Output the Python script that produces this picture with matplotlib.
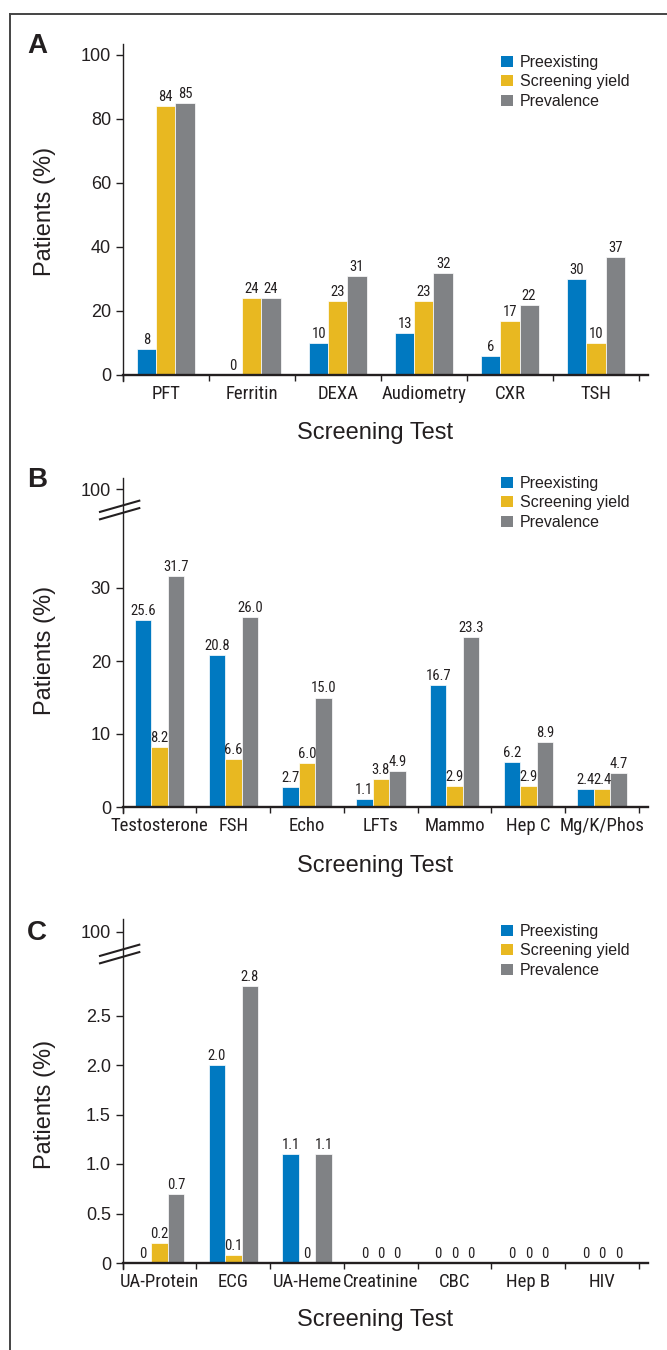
import numpy as np
import matplotlib
matplotlib.use("Agg")
import matplotlib.pyplot as plt
from matplotlib import font_manager
from matplotlib.font_manager import FontProperties
from matplotlib.patches import Patch
from matplotlib.lines import Line2D
from matplotlib.transforms import IdentityTransform

# ---- data ----
series_names = ["Preexisting", "Screening yield", "Prevalence"]
colors = ["#0079c1", "#e8b821", "#808285"]

tests_a = ["PFT", "Ferritin", "DEXA", "Audiometry", "CXR", "TSH"]
pre_a = [8, 0, 10, 13, 6, 30]
yield_a = [84, 24, 23, 23, 17, 10]
prev_a = [85, 24, 31, 32, 22, 37]

tests_b = ["Testosterone", "FSH", "Echo", "LFTs", "Mammo", "Hep C", "Mg/K/Phos"]
pre_b = [25.6, 20.8, 2.7, 1.1, 16.7, 6.2, 2.4]
yield_b = [8.2, 6.6, 6.0, 3.8, 2.9, 2.9, 2.4]
prev_b = [31.7, 26.0, 15.0, 4.9, 23.3, 8.9, 4.7]

tests_c = ["UA-Protein", "ECG", "UA-Heme", "Creatinine", "CBC", "Hep B", "HIV"]
pre_c = [0, 2.0, 1.1, 0, 0, 0, 0]
yield_c = [0.2, 0.08, 0, 0, 0, 0, 0]
prev_c = [0.7, 2.8, 1.1, 0, 0, 0, 0]

# ---- style ----
W, H = 667, 1350
INK = "#231f20"
plain = ["Liberation Sans", "DejaVu Sans"]
plt.rcParams["font.family"] = plain
plt.rcParams["text.color"] = INK


# look for a condensed sans font (the tick/bar labels are condensed in the original)
def find_condensed():
    prefs = ["Liberation Sans Narrow", "Roboto Condensed", "Open Sans Condensed",
             "Noto Sans Condensed", "DejaVu Sans Condensed", "Noto Sans", "Open Sans",
             "DejaVu Sans"]
    hits = []
    for f in font_manager.fontManager.ttflist:
        cond = (f.stretch in ("condensed", "semi-condensed", "extra-condensed")
                or "Narrow" in f.name or "Condensed" in f.name
                or "Condensed" in f.fname or "Narrow" in f.fname)
        if not cond or f.style != "normal":
            continue
        if f.weight not in (400, "normal", "regular", "book"):
            continue
        if "Mono" in f.name or "Serif" in f.name or "Mono" in f.fname:
            continue
        rank = len(prefs)
        for i, p in enumerate(prefs):
            if f.name.startswith(p):
                rank = i
                break
        hits.append((rank, f.fname))
    if hits:
        hits.sort()
        return FontProperties(fname=hits[0][1]), True
    return FontProperties(family=plain), False


cond_fp, have_cond = find_condensed()
TICK_X_SIZE = 13.5 if have_cond else 11.5
BAR_SIZE = 10.5 if have_cond else 9.5

fig = plt.figure(figsize=(W / 100, H / 100), dpi=100)

AX_L, AX_R, CAT_R = 122.7, 648.0, 639.0


def px_rect(top, bottom):
    return [AX_L / W, 1 - bottom / H, (AX_R - AX_L) / W, (bottom - top) / H]


def fmt_int(v):
    return f"{v:.0f}"


def fmt_dec(v):
    return f"{v:.1f}"


def fmt_dec0(v):
    return "0" if v == 0 else f"{v:.1f}"


def cfp(size):
    fp = cond_fp.copy()
    fp.set_size(size)
    return fp


def draw_panel(top, zero_px, px_per_unit, tests, series, fmt, yticks, yticklabels,
               letter, letter_y, legend_top, ylabel_y, xlabel_y, brk=None):
    bottom = zero_px + 6
    ax = fig.add_axes(px_rect(top, bottom))
    n = len(tests)
    x = np.arange(n)
    w = 0.223
    for k, (vals, col) in enumerate(zip(series, colors)):
        xs = x + (k - 1) * w
        ax.bar(xs, vals, width=w, color=col, edgecolor="white", linewidth=0.5, zorder=2)
        for xi, v in zip(xs, vals):
            ax.annotate(fmt(v), (xi, v), xytext=(0, 1.5), textcoords="offset points",
                        ha="center", va="bottom", fontproperties=cfp(BAR_SIZE), color=INK)

    span = n * (AX_R - AX_L) / (CAT_R - AX_L)
    ax.set_xlim(-0.5, -0.5 + span)
    ax.set_ylim(-(bottom - zero_px) / px_per_unit, (zero_px - top) / px_per_unit)

    for s in ["top", "right"]:
        ax.spines[s].set_visible(False)
    ax.spines["bottom"].set_position(("data", 0))
    ax.spines["bottom"].set_linewidth(1.7)
    ax.spines["left"].set_linewidth(1.0)
    ax.spines["bottom"].set_color(INK)
    ax.spines["left"].set_color(INK)

    ax.set_xticks(np.arange(n + 1) - 0.5)
    ax.set_xticklabels([])
    ax.tick_params(axis="x", which="major", length=4.5, width=1.0, color=INK)
    ax.set_xticks(x, minor=True)
    ax.set_xticklabels(tests, minor=True, fontproperties=cfp(TICK_X_SIZE), color=INK)
    ax.tick_params(axis="x", which="minor", length=0, pad=7)

    ax.set_yticks(yticks)
    ax.set_yticklabels(yticklabels, fontsize=13, color=INK)
    ax.tick_params(axis="y", length=5, width=1.0, pad=3.5, color=INK)

    if brk is not None:
        # broken-axis marks on the y spine
        fig.canvas.draw()
        cx, cy = ax.transData.transform((-0.5, brk))
        for dy in (3.7, -3.7):
            seg = Line2D([cx - 22.7, cx + 16.6], [cy + dy - 5.6, cy + dy + 5.6],
                         transform=IdentityTransform(), color=INK, lw=1.5)
            fig.add_artist(seg)

    fig.text(37 / W, 1 - letter_y / H, letter, fontsize=20, fontweight="bold",
             ha="center", va="center")
    fig.text(45 / W, 1 - ylabel_y / H, "Patients (%)", fontsize=17, rotation=90,
             ha="center", va="center")
    fig.text(375 / W, 1 - xlabel_y / H, "Screening Test", fontsize=17,
             ha="center", va="center")

    handles = [Patch(facecolor=c, edgecolor="none") for c in colors]
    fig.legend(handles, series_names, loc="upper left",
               bbox_to_anchor=(501 / W, 1 - legend_top / H), frameon=False,
               fontsize=11.5, handlelength=0.75, handleheight=0.7,
               handletextpad=0.45, labelspacing=0.28, borderpad=0,
               borderaxespad=0)
    return ax


draw_panel(44, 375, 3.2, tests_a, [pre_a, yield_a, prev_a], fmt_int,
           [0, 20, 40, 60, 80, 100], ["0", "20", "40", "60", "80", "100"],
           "A", 46, 55, 211, 433)

draw_panel(478, 807, 7.3, tests_b, [pre_b, yield_b, prev_b], fmt_dec,
           [0, 10, 20, 30, (807 - 489) / 7.3], ["0", "10", "20", "30", "100"],
           "B", 480, 476, 650, 866, brk=(807 - 510) / 7.3)

draw_panel(919, 1263, 99.0, tests_c, [pre_c, yield_c, prev_c], fmt_dec0,
           [0, 0.5, 1.0, 1.5, 2.0, 2.5, (1263 - 932) / 99.0],
           ["0", "0.5", "1.0", "1.5", "2.0", "2.5", "100"],
           "C", 933, 924, 1104, 1320, brk=(1263 - 954) / 99.0)

# frame around the figure (top and left edges visible)
fig.add_artist(Line2D([10 / W, 1], [1 - 14 / H, 1 - 14 / H], transform=fig.transFigure,
                      color="#444444", lw=1.4))
fig.add_artist(Line2D([10 / W, 10 / W], [0, 1 - 14 / H], transform=fig.transFigure,
                      color="#444444", lw=1.4))

fig.savefig("out.png", dpi=100)
